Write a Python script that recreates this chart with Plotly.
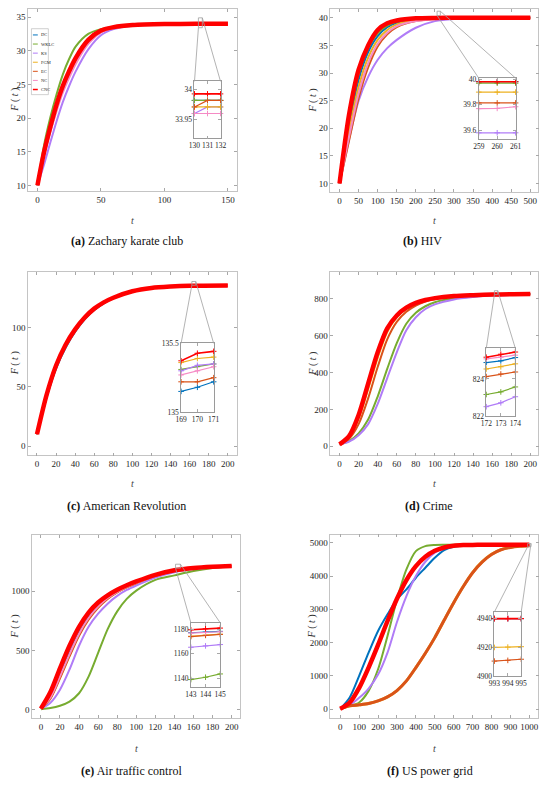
import plotly.graph_objects as go

W, H = 550, 788

series_names = ["DC", "WKLC", "KS", "FGM", "EC", "NC", "CNC"]
series_colors = ["#0072BD", "#77AC30", "#B07CF7", "#EDB120", "#D95319", "#F58BC5", "#FF0000"]

# ---- (a) Zachary karate club ----
ka_t = [0, 5, 10, 15, 20, 25, 30, 40, 50, 60, 75, 100, 125, 150]
ka_dc = [10, 14.6, 18.4, 21.7, 24.5, 26.7, 28.6, 31.4, 32.9, 33.45, 33.8, 33.94, 33.98, 33.99]
ka_wklc = [10, 15.8, 20.0, 23.5, 26.5, 28.8, 30.6, 32.5, 33.2, 33.5, 33.8, 33.95, 33.98, 33.98]
ka_ks = [10, 13.0, 16.3, 19.5, 22.4, 24.8, 26.9, 30.2, 32.3, 33.2, 33.7, 33.9, 33.96, 33.97]
ka_fgm = [10, 14.5, 18.2, 21.5, 24.3, 26.5, 28.4, 31.3, 32.8, 33.4, 33.78, 33.93, 33.97, 33.97]
ka_ec = [10, 14.4, 18.0, 21.3, 24.1, 26.3, 28.2, 31.2, 32.8, 33.4, 33.78, 33.93, 33.97, 33.98]
ka_nc = [10, 14.2, 17.8, 21.0, 23.8, 26.0, 28.0, 31.0, 32.7, 33.35, 33.75, 33.92, 33.96, 33.96]
ka_cnc = [10, 14.8, 18.6, 22.0, 24.8, 27.0, 28.9, 31.6, 33.0, 33.5, 33.8, 33.95, 33.99, 33.99]
ka_zt = [130, 131, 132]
ka_z_dc = [33.982, 33.982, 33.982]
ka_z_wklc = [33.982, 33.982, 33.982]
ka_z_ks = [33.96, 33.971, 33.971]
ka_z_fgm = [33.971, 33.971, 33.971]
ka_z_ec = [33.971, 33.982, 33.982]
ka_z_nc = [33.96, 33.96, 33.96]
ka_z_cnc = [33.993, 33.993, 33.993]

# ---- (b) HIV ----
hiv_t = [0, 25, 50, 75, 100, 125, 150, 200, 250, 300, 400, 500]
hiv_dc = [10, 20.5, 28.8, 33.8, 36.7, 38.3, 39.1, 39.8, 39.96, 39.99, 40, 40]
hiv_wklc = [10, 21.5, 29.8, 34.5, 37.2, 38.6, 39.3, 39.8, 39.95, 39.99, 40, 40]
hiv_ks = [10, 18.0, 25.0, 29.3, 32.4, 34.5, 36.0, 38.2, 39.4, 39.8, 39.97, 40]
hiv_fgm = [10, 19.5, 27.5, 32.8, 36.0, 37.8, 38.8, 39.6, 39.88, 39.96, 40, 40]
hiv_ec = [10, 17.8, 25.5, 31.0, 34.8, 37.0, 38.3, 39.4, 39.8, 39.93, 39.99, 40]
hiv_nc = [10, 18.5, 26.3, 31.8, 35.3, 37.3, 38.5, 39.4, 39.75, 39.92, 39.99, 40]
hiv_cnc = [10, 22.5, 30.6, 35.0, 37.8, 39.0, 39.5, 39.9, 39.98, 40, 40, 40]
hiv_zt = [259, 260, 261]
hiv_z_dc = [39.982, 39.982, 39.982]
hiv_z_wklc = [39.97, 39.97, 39.97]
hiv_z_ks = [39.58, 39.58, 39.58]
hiv_z_fgm = [39.9, 39.9, 39.9]
hiv_z_ec = [39.815, 39.815, 39.815]
hiv_z_nc = [39.77, 39.772, 39.785]
hiv_z_cnc = [39.982, 39.982, 39.982]

# ---- (c) American Revolution ----
ar_t = [0, 10, 20, 30, 40, 50, 60, 70, 80, 100, 120, 140, 160, 200]
ar_dc = [10, 41, 65.5, 83, 96.5, 107, 114.8, 120.5, 124.6, 130.2, 133.1, 134.4, 135.1, 135.38]
ar_wklc = [10, 42.5, 67.5, 85, 98, 108.2, 115.7, 121, 125, 130.5, 133.3, 134.5, 135.2, 135.45]
ar_ks = [10, 42, 67, 84.5, 97.6, 107.9, 115.5, 120.9, 124.9, 130.4, 133.3, 134.5, 135.2, 135.45]
ar_fgm = [10, 42.5, 67.5, 85, 98.2, 108.3, 115.8, 121.1, 125.1, 130.5, 133.35, 134.55, 135.22, 135.47]
ar_ec = [10, 41.5, 66.5, 84, 97.2, 107.5, 115.2, 120.7, 124.8, 130.3, 133.2, 134.45, 135.15, 135.4]
ar_nc = [10, 42, 67, 84.5, 97.7, 108, 115.5, 121, 125, 130.4, 133.3, 134.5, 135.18, 135.43]
ar_cnc = [10, 43, 68, 85.5, 98.5, 108.5, 116, 121.3, 125.2, 130.6, 133.4, 134.6, 135.25, 135.5]
ar_zt = [169, 170, 171]
ar_z_dc = [135.15, 135.18, 135.22]
ar_z_wklc = [135.31, 135.33, 135.35]
ar_z_ks = [135.30, 135.34, 135.35]
ar_z_fgm = [135.36, 135.39, 135.40]
ar_z_ec = [135.22, 135.22, 135.25]
ar_z_nc = [135.27, 135.30, 135.33]
ar_z_cnc = [135.373, 135.428, 135.442]

# ---- (d) Crime ----
cr_t = [0, 10, 20, 30, 40, 50, 60, 70, 80, 90, 100, 120, 140, 160, 200]
cr_dc = [10, 53, 165, 333, 503, 634, 706, 749, 776, 792, 803, 814, 819.5, 823, 825.8]
cr_wklc = [10, 28, 70, 145, 270, 420, 560, 665, 725, 760, 782, 803, 813, 820, 825]
cr_ks = [10, 25, 60, 120, 230, 370, 510, 630, 700, 745, 770, 797, 810, 818, 824.5]
cr_fgm = [10, 48, 150, 310, 480, 620, 700, 745, 773, 791, 802, 813, 819, 823, 825.8]
cr_ec = [10, 40, 120, 260, 430, 580, 675, 730, 764, 785, 798, 811, 818, 822.5, 825.5]
cr_nc = [10, 54, 167, 336, 506, 637, 708, 750, 777, 793, 803.5, 814.5, 819.8, 823.3, 826]
cr_cnc = [10, 55, 170, 340, 510, 640, 710, 752, 778, 794, 804, 815, 820, 823.5, 826]
cr_zt = [172, 173, 174]
cr_z_dc = [824.89, 824.98, 825.16]
cr_z_wklc = [823.16, 823.30, 823.57]
cr_z_ks = [822.5, 822.71, 823.04]
cr_z_fgm = [824.54, 824.66, 824.82]
cr_z_ec = [824.13, 824.27, 824.38]
cr_z_nc = [825.09, 825.18, 825.29]
cr_z_cnc = [825.18, 825.34, 825.46]

# ---- (e) Air traffic control ----
at_t = [0, 10, 20, 30, 40, 50, 60, 70, 80, 90, 100, 120, 140, 160, 180, 200]
at_dc = [10, 110, 290, 480, 650, 780, 875, 945, 997, 1038, 1072, 1132, 1172, 1193, 1204, 1211]
at_wklc = [5, 15, 35, 70, 140, 280, 480, 680, 830, 935, 1005, 1095, 1133, 1170, 1195, 1210]
at_ks = [10, 60, 170, 340, 540, 700, 810, 895, 960, 1010, 1048, 1115, 1160, 1186, 1200, 1208]
at_fgm = [10, 100, 275, 460, 635, 768, 866, 939, 992, 1034, 1069, 1130, 1170, 1192, 1203, 1210]
at_ec = [10, 95, 265, 450, 625, 760, 860, 935, 990, 1032, 1067, 1129, 1169, 1191, 1203, 1210]
at_nc = [10, 105, 282, 470, 642, 774, 870, 942, 994, 1036, 1070, 1131, 1171, 1192, 1204, 1211]
at_cnc = [10, 150, 350, 540, 700, 820, 905, 965, 1012, 1050, 1082, 1138, 1176, 1196, 1206, 1212]
at_zt = [143, 144, 145]
at_z_dc = [1177.3, 1177.8, 1178.4]
at_z_wklc = [1138.9, 1140.8, 1143.5]
at_z_ks = [1165.4, 1166.5, 1167.6]
at_z_fgm = [1174.4, 1175.3, 1176.1]
at_z_ec = [1174.1, 1175.1, 1175.9]
at_z_nc = [1177.0, 1177.5, 1178.1]
at_z_cnc = [1179.7, 1180.5, 1181.1]

# ---- (f) US power grid ----
pg_t = [0, 50, 100, 150, 200, 250, 300, 350, 400, 450, 500, 550, 600, 650, 700, 750, 800, 850, 900, 950, 1000]
pg_dc = [10, 350, 1000, 1700, 2350, 2850, 3300, 3600, 3950, 4250, 4550, 4780, 4880, 4920, 4935, 4940, 4940, 4940, 4940, 4940, 4940]
pg_wklc = [10, 90, 200, 550, 1200, 2200, 3300, 4200, 4750, 4900, 4935, 4940, 4940, 4940, 4940, 4940, 4940, 4940, 4940, 4940, 4940]
pg_ks = [10, 120, 340, 620, 1040, 1700, 2620, 3400, 4000, 4430, 4700, 4840, 4900, 4925, 4935, 4940, 4940, 4940, 4940, 4940, 4940]
pg_fgm = [10, 100, 130, 170, 250, 370, 560, 850, 1250, 1680, 2150, 2680, 3200, 3685, 4105, 4425, 4655, 4797, 4868, 4903, 4921]
pg_ec = [10, 100, 130, 170, 250, 370, 560, 850, 1250, 1680, 2150, 2680, 3200, 3680, 4100, 4420, 4650, 4790, 4860, 4895, 4912]
pg_nc = [10, 200, 630, 1240, 1920, 2640, 3310, 3870, 4295, 4575, 4755, 4858, 4908, 4930, 4937, 4940, 4940, 4940, 4940, 4940, 4940]
pg_cnc = [10, 200, 640, 1250, 1930, 2650, 3320, 3880, 4300, 4580, 4760, 4860, 4910, 4930, 4937, 4940, 4940, 4940, 4940, 4940, 4940]
pg_zt = [993, 994, 995]
pg_z_dc = [4940, 4940, 4940]
pg_z_wklc = [4940, 4940, 4940]
pg_z_ks = [4940, 4940, 4940]
pg_z_fgm = [4920.0, 4920.2, 4920.5]
pg_z_ec = [4910.5, 4911.0, 4911.8]
pg_z_nc = [4940, 4940, 4940]
pg_z_cnc = [4940, 4940, 4940]

# panel layout in pixels: main box, inset box, zoom rectangle
panels = [
    dict(cap="<b>(a)</b> Zachary karate club", t=ka_t,
         ys=[ka_dc, ka_wklc, ka_ks, ka_fgm, ka_ec, ka_nc, ka_cnc],
         zt=ka_zt, zys=[ka_z_dc, ka_z_wklc, ka_z_ks, ka_z_fgm, ka_z_ec, ka_z_nc, ka_z_cnc],
         box=(22.7, 236, 5, 189), xr=(-7.3, 157), yr=(9.2, 36.2),
         xt=[0, 50, 100, 150], yt=[10, 15, 20, 25, 30, 35],
         ibox=(192.7, 219.3, 78.3, 136), iyr=(33.918, 34.014), iyt=[33.95, 34],
         rect=(196.7, 200.7, 14, 24), cx=124, cy=240, ty=219, fx=9),
    dict(cap="<b>(b)</b> HIV", t=hiv_t,
         ys=[hiv_dc, hiv_wklc, hiv_ks, hiv_fgm, hiv_ec, hiv_nc, hiv_cnc],
         zt=hiv_zt, zys=[hiv_z_dc, hiv_z_wklc, hiv_z_ks, hiv_z_fgm, hiv_z_ec, hiv_z_nc, hiv_z_cnc],
         box=(331.7, 544.3, 5, 190), xr=(-23.8, 521.3), yr=(8.5, 41.6),
         xt=list(range(0, 501, 50)), yt=[10, 15, 20, 25, 30, 35, 40],
         ibox=(483.3, 521, 75, 136.7), iyr=(39.53, 40.01), iyt=[39.6, 39.8, 40],
         rect=(440.7, 444, 7.3, 11.7), cx=426, cy=240, ty=219, fx=314),
    dict(cap="<b>(c)</b> American Revolution", t=ar_t,
         ys=[ar_dc, ar_wklc, ar_ks, ar_fgm, ar_ec, ar_nc, ar_cnc],
         zt=ar_zt, zys=[ar_z_dc, ar_z_wklc, ar_z_ks, ar_z_fgm, ar_z_ec, ar_z_nc, ar_z_cnc],
         box=(22.7, 236, 270.7, 456.7), xr=(-9.2, 209.5), yr=(-7.8, 147.2),
         xt=list(range(0, 201, 20)), yt=[0, 50, 100],
         ibox=(179, 212.3, 343.3, 412.7), iyr=(135, 135.5), iyt=[135, 135.5],
         rect=(190, 194, 280.7, 284.5), cx=123, cy=508, ty=485, fx=9),
    dict(cap="<b>(d)</b> Crime", t=cr_t,
         ys=[cr_dc, cr_wklc, cr_ks, cr_fgm, cr_ec, cr_nc, cr_cnc],
         zt=cr_zt, zys=[cr_z_dc, cr_z_wklc, cr_z_ks, cr_z_fgm, cr_z_ec, cr_z_nc, cr_z_cnc],
         box=(331.7, 544.3, 270.7, 456.7), xr=(-9.5, 208.5), yr=(-50, 948),
         xt=list(range(0, 201, 20)), yt=[0, 200, 400, 600, 800],
         ibox=(491, 520.7, 348.3, 416.7), iyr=(822, 825.66), iyt=[822, 824],
         rect=(499.3, 502.7, 290, 294), cx=432, cy=508, ty=485, fx=313),
    dict(cap="<b>(e)</b> Air traffic control", t=at_t,
         ys=[at_dc, at_wklc, at_ks, at_fgm, at_ec, at_nc, at_cnc],
         zt=at_zt, zys=[at_z_dc, at_z_wklc, at_z_ks, at_z_fgm, at_z_ec, at_z_nc, at_z_cnc],
         box=(26.7, 239.3, 537.3, 722.3), xr=(-9.2, 208.8), yr=(-69, 1472),
         xt=list(range(0, 201, 20)), yt=[0, 500, 1000],
         ibox=(189, 219, 626, 691), iyr=(1132.7, 1185.4), iyt=[1140, 1160, 1180],
         rect=(173.3, 178.3, 566.7, 570.7), cx=128, cy=776, ty=753, fx=9),
    dict(cap="<b>(f)</b> US power grid", t=pg_t,
         ys=[pg_dc, pg_wklc, pg_ks, pg_fgm, pg_ec, pg_nc, pg_cnc],
         zt=pg_zt, zys=[pg_z_dc, pg_z_wklc, pg_z_ks, pg_z_fgm, pg_z_ec, pg_z_nc, pg_z_cnc],
         box=(331.7, 544.3, 536.7, 722.3), xr=(-51.7, 1048), yr=(-267, 5247),
         xt=list(range(0, 1001, 100)), yt=[0, 1000, 2000, 3000, 4000, 5000],
         ibox=(499.3, 526.7, 615, 680), iyr=(4900, 4944.6), iyt=[4900, 4920, 4940],
         rect=(533.3, 536.7, 545.7, 549), cx=433, cy=776, ty=753, fx=313),
]

TICK_FONT = dict(family="Liberation Serif", size=9, color="#262626")
INSET_FONT = dict(family="Liberation Serif", size=7.5, color="#262626")


def px(x):
    return x / W


def py(y):
    return 1 - y / H


def axis_style(domain, rng, vals, anchor, frame="#c4c4c4", font=TICK_FONT):
    return dict(
        domain=domain, range=list(rng), anchor=anchor,
        tickvals=vals, ticktext=[f"{v:g}" for v in vals], tickangle=0,
        ticks="inside", ticklen=3, tickcolor="#a8a8a8", tickwidth=0.8,
        showline=True, linecolor=frame, linewidth=0.8, mirror="ticks",
        showgrid=False, zeroline=False, tickfont=font, fixedrange=True,
    )


fig = go.Figure()
layout = {}
shapes = []
annotations = []

for i, p in enumerate(panels):
    m = 2 * i + 1
    n = 2 * i + 2
    mx, my = ("x" if m == 1 else f"x{m}"), ("y" if m == 1 else f"y{m}")
    ix, iy = f"x{n}", f"y{n}"
    x0, x1, y0, y1 = p["box"]
    layout["xaxis" if m == 1 else f"xaxis{m}"] = axis_style([px(x0), px(x1)], p["xr"], p["xt"], my)
    layout["yaxis" if m == 1 else f"yaxis{m}"] = axis_style([py(y1), py(y0)], p["yr"], p["yt"], mx)

    # main curves, CNC drawn last and thickest
    for name, col, ys in zip(series_names, series_colors, p["ys"]):
        w = 4.5 if name == "CNC" else 2
        if i == 5 and name in ("FGM", "EC"):
            w = 3
        fig.add_trace(go.Scatter(
            x=p["t"], y=ys, mode="lines", name=name, xaxis=mx, yaxis=my,
            line=dict(color=col, width=w, shape="spline", smoothing=0.8),
        ))

    # inset
    a0, a1, b0, b1 = p["ibox"]
    layout[f"xaxis{n}"] = axis_style([px(a0), px(a1)], (p["zt"][0], p["zt"][-1]), p["zt"], iy,
                                     "#9a9a9a", INSET_FONT)
    layout[f"yaxis{n}"] = axis_style([py(b1), py(b0)], p["iyr"], p["iyt"], ix, "#9a9a9a", INSET_FONT)
    for name, col, ys in zip(series_names, series_colors, p["zys"]):
        fig.add_trace(go.Scatter(
            x=p["zt"], y=ys, mode="lines+markers", name=name, xaxis=ix, yaxis=iy,
            cliponaxis=False,
            line=dict(color=col, width=1.6 if name == "CNC" else 1.2),
            marker=dict(symbol="cross-thin", size=4, line=dict(width=1, color=col)),
        ))

    # zoom marker rectangle and connectors
    r0, r1, s0, s1 = p["rect"]
    line_style = dict(color="#a0a0a0", width=0.8)
    shapes.append(dict(type="rect", xref="paper", yref="paper", x0=px(r0), x1=px(r1),
                       y0=py(s1), y1=py(s0), line=line_style, layer="above"))
    shapes.append(dict(type="line", xref="paper", yref="paper", x0=px(r0), y0=py(s1),
                       x1=px(a0), y1=py(b0), line=line_style, layer="above"))
    shapes.append(dict(type="line", xref="paper", yref="paper", x0=px(r1), y0=py(s0),
                       x1=px(a1), y1=py(b0), line=line_style, layer="above"))

    # axis titles and caption
    annotations.append(dict(text="<i>t</i>", x=px((x0 + x1) / 2), y=py(p["ty"]), xref="paper", yref="paper",
                            xanchor="center", yanchor="middle", showarrow=False,
                            font=dict(family="Liberation Serif", size=10, color="#444")))
    annotations.append(dict(text="<i>F</i> ( <i>t</i> )", x=px(p["fx"]), y=py((y0 + y1) / 2),
                            xref="paper", yref="paper", textangle=-90, showarrow=False,
                            xanchor="center", yanchor="middle",
                            font=dict(family="Liberation Serif", size=10, color="#333")))
    annotations.append(dict(text=p["cap"], x=px(p["cx"]), y=py(p["cy"]), xref="paper", yref="paper",
                            xanchor="center", yanchor="middle", showarrow=False,
                            font=dict(family="Liberation Serif", size=12, color="#111")))

# legend of panel (a), drawn by hand to keep it tiny
shapes.append(dict(type="rect", xref="paper", yref="paper", x0=px(26), x1=px(43.3),
                   y0=py(91.7), y1=py(25), line=dict(color="#b0b0b0", width=0.6),
                   fillcolor="white", layer="above"))
for k, (name, col) in enumerate(zip(series_names, series_colors)):
    yy = 31.3 + 9.2 * k
    shapes.append(dict(type="line", xref="paper", yref="paper", x0=px(27.5), x1=px(32.5),
                       y0=py(yy), y1=py(yy), line=dict(color=col, width=1.5 if name == "CNC" else 1),
                       layer="above"))
    annotations.append(dict(text=name, x=px(33.3), y=py(yy), xref="paper", yref="paper",
                            xanchor="left", yanchor="middle", showarrow=False,
                            font=dict(family="Liberation Serif", size=4.5, color="#222")))

fig.update_layout(
    width=W, height=H, margin=dict(l=0, r=0, t=0, b=0),
    paper_bgcolor="white", plot_bgcolor="white",
    showlegend=False, shapes=shapes, annotations=annotations,
    **layout,
)

# page margin off so the 550x788 figure sits exactly in the window
fig.write_html("out.html", config={"displayModeBar": False},
               post_script="document.body.style.margin='0';")
